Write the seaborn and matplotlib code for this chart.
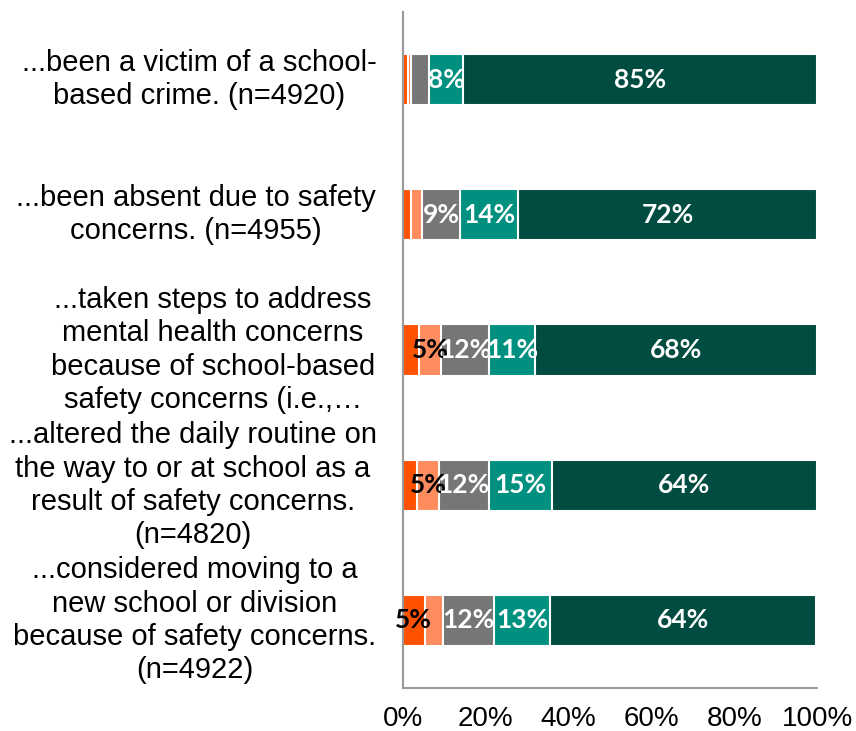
import numpy as np
import pandas as pd
import matplotlib
matplotlib.use("Agg")
import matplotlib.pyplot as plt
import matplotlib.transforms as mtransforms
import seaborn as sns

questions = [
    "...been a victim of a school-\nbased crime. (n=4920)",
    "...been absent due to safety\nconcerns. (n=4955)",
    "...taken steps to address\nmental health concerns\nbecause of school-based\nsafety concerns (i.e.,\u2026",
    "...altered the daily routine on\nthe way to or at school as a\nresult of safety concerns.\n(n=4820)",
    "...considered moving to a\nnew school or division\nbecause of safety concerns.\n(n=4922)",
]
keys = ["q1", "q2", "q3", "q4", "q5"]

# percent per response level, left to right
orange = [1.2, 2.0, 3.9, 3.4, 5.2]
salmon = [0.8, 2.5, 5.2, 5.3, 4.4]
gray = [4.4, 9.3, 11.7, 12.0, 12.4]
teal = [8.2, 14.0, 11.2, 15.2, 13.4]
green = [85.4, 72.2, 68.0, 64.1, 64.4]

series = [orange, salmon, gray, teal, green]
colors = ["#FF5200", "#FF8C5F", "#767676", "#009080", "#004C40"]
text_colors = ["black", "black", "white", "white", "white"]
x_ticks = [0, 20, 40, 60, 80, 100]

label_x_px = [199, 196, 213, 193, 195]

W, H = 856, 731
sns.set_style("white")
fig = plt.figure(figsize=(W / 100, H / 100), dpi=100)
ax = fig.add_axes([403 / W, 1 - 688 / H, (817 - 403) / W, (688 - 12) / H])

vals = np.array(series)
cum = np.cumsum(vals, axis=0)
df = pd.DataFrame({"key": keys})
for i in range(len(series)):
    df[f"c{i}"] = cum[i]

# stacked bars: draw cumulative totals longest first
for i in reversed(range(len(series))):
    sns.barplot(data=df, y="key", x=f"c{i}", order=keys, orient="h",
                color=colors[i], saturation=1, width=0.38,
                edgecolor="white", linewidth=1.5, ax=ax)

for j in range(len(keys)):
    for i in range(len(series)):
        v = vals[i, j]
        if round(v) >= 5:
            ax.text(cum[i, j] - v / 2, j, f"{round(v)}%", ha="center", va="center",
                    color=text_colors[i], fontsize=19, family="Lato", fontweight="bold")

trans = mtransforms.blended_transform_factory(fig.transFigure, ax.transData)
for j, q in enumerate(questions):
    ax.text(label_x_px[j] / W, j, q, transform=trans, ha="center", va="center",
            multialignment="center", fontsize=21, family="Liberation Sans",
            color="black", linespacing=1.24)

ax.set_xlim(0, 100)
ax.set_ylim(4.5, -0.5)
ax.set_xticks(x_ticks)
ax.set_xticklabels([f"{t}%" for t in x_ticks], fontsize=20, family="Liberation Sans",
                   color="black")
ax.set_yticks([])
ax.set_xlabel("")
ax.set_ylabel("")
ax.tick_params(axis="x", length=0, pad=13)
for s in ["top", "right"]:
    ax.spines[s].set_visible(False)
for s in ["left", "bottom"]:
    ax.spines[s].set_color("#999999")
    ax.spines[s].set_linewidth(1.5)

fig.savefig("out.png", dpi=100)
